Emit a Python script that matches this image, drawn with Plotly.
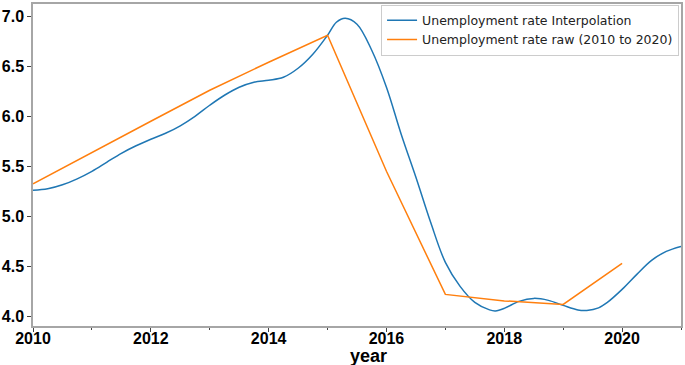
import plotly.graph_objects as go

# Raw data (2010 to 2020)
raw_years = [2010, 2011, 2012, 2013, 2014, 2015, 2016, 2017, 2018, 2019, 2020]
raw_values = [5.325, 5.64, 5.95, 6.26, 6.54, 6.81, 5.45, 4.22, 4.155, 4.12, 4.53]

# Interpolated curve
interp_years = [2010.0, 2010.25, 2010.5, 2010.75, 2011.0, 2011.25, 2011.5, 2011.75,
                2012.0, 2012.25, 2012.5, 2012.75, 2013.0, 2013.25, 2013.5, 2013.75,
                2014.0, 2014.25, 2014.5, 2014.75, 2015.0, 2015.15, 2015.3, 2015.5,
                2015.75, 2016.0, 2016.25, 2016.5, 2016.75, 2017.0, 2017.25, 2017.5,
                2017.75, 2017.85, 2018.0, 2018.25, 2018.5, 2018.75, 2019.0, 2019.25,
                2019.4, 2019.6, 2019.75, 2020.0, 2020.25, 2020.5, 2020.75, 2021.0]
interp_values = [5.26, 5.275, 5.315, 5.375, 5.45, 5.54, 5.63, 5.705,
                 5.77, 5.83, 5.905, 6.00, 6.11, 6.21, 6.29, 6.34,
                 6.36, 6.39, 6.48, 6.62, 6.81, 6.94, 6.98, 6.92,
                 6.66, 6.29, 5.82, 5.39, 4.94, 4.54, 4.30, 4.14,
                 4.065, 4.055, 4.08, 4.15, 4.18, 4.16, 4.11, 4.065,
                 4.06, 4.085, 4.14, 4.27, 4.42, 4.56, 4.65, 4.70]

x_ticks = [2010, 2012, 2014, 2016, 2018, 2020]
y_ticks = [4.0, 4.5, 5.0, 5.5, 6.0, 6.5, 7.0]

fig = go.Figure()
fig.add_trace(go.Scatter(x=interp_years, y=interp_values, mode="lines",
                         name="Unemployment rate Interpolation",
                         line=dict(color="#1f77b4", width=1.5, shape="spline", smoothing=1.0)))
fig.add_trace(go.Scatter(x=raw_years, y=raw_values, mode="lines",
                         name="Unemployment rate raw (2010 to 2020)",
                         line=dict(color="#ff7f0e", width=1.5)))

tickfont = dict(family="Liberation Sans", size=16, color="black", weight="bold")

fig.update_layout(
    width=685, height=365,
    margin=dict(l=28, r=2, t=2, b=39),
    plot_bgcolor="white", paper_bgcolor="white",
    showlegend=True,
    legend=dict(x=0.997, y=0.998, xanchor="right", yanchor="top",
                bgcolor="white", bordercolor="#cccccc", borderwidth=1,
                font=dict(family="DejaVu Sans", size=12.5, color="#222222")),
    xaxis=dict(range=[2010, 2021], tickvals=x_ticks, ticktext=[str(v) for v in x_ticks],
               showgrid=False, zeroline=False, showline=True, mirror=True,
               linecolor="#a6a6a6", linewidth=1.5,
               ticks="outside", ticklen=4, tickcolor="#444444", tickwidth=1,
               ticklabelstandoff=-7,
               minor=dict(dtick=1, tick0=2010, ticks="outside", ticklen=2, tickcolor="#444444", showgrid=False),
               tickfont=tickfont),
    yaxis=dict(range=[3.904, 7.122], tickvals=y_ticks, ticktext=[f"{v:.1f}" for v in y_ticks],
               showgrid=False, zeroline=False, showline=True, mirror=True,
               linecolor="#a6a6a6", linewidth=1.5,
               ticks="outside", ticklen=4, tickcolor="#444444", tickwidth=1,
               tickfont=tickfont),
    annotations=[dict(text="year", x=0.518, y=0, xref="paper", yref="paper",
                      xanchor="center", yanchor="top", yshift=-18, showarrow=False,
                      font=dict(family="Liberation Sans", size=18, color="black", weight="bold"))],
)

fig.write_html("out.html", config={"displayModeBar": False},
               post_script="document.body.style.margin='0px';document.body.style.overflow='hidden';")
